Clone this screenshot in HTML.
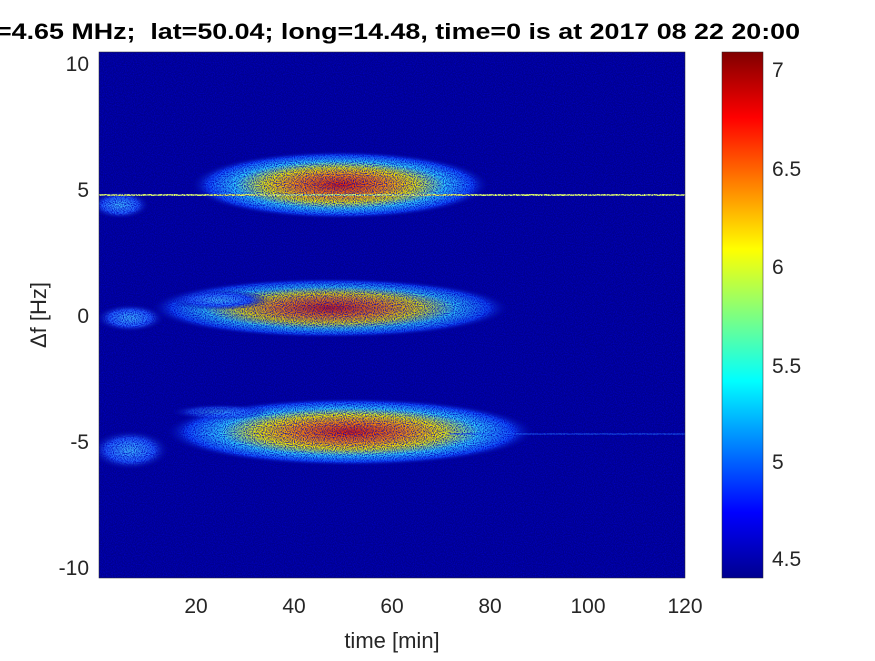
<!DOCTYPE html>
<html><head><meta charset="utf-8"><style>
body{margin:0;background:#fff;width:875px;height:656px;overflow:hidden;font-family:"Liberation Sans",sans-serif}
</style></head><body>
<svg width="875" height="656" xmlns="http://www.w3.org/2000/svg" font-family="Liberation Sans, sans-serif">
<defs>
<radialGradient id="g">
<stop offset="0" stop-color="#e02000"/>
<stop offset="0.3" stop-color="#ff9000"/>
<stop offset="0.5" stop-color="#f0f000"/>
<stop offset="0.7" stop-color="#30d0ff"/>
<stop offset="0.88" stop-color="#1050ff"/>
<stop offset="1" stop-color="#00008f" stop-opacity="0"/>
</radialGradient>
<radialGradient id="g2">
<stop offset="0" stop-color="#40c0ff"/>
<stop offset="0.6" stop-color="#2060ff"/>
<stop offset="1" stop-color="#00008f" stop-opacity="0"/>
</radialGradient>
<linearGradient id="cb" x1="0" y1="1" x2="0" y2="0">
<stop offset="0" stop-color="#00008f"/>
<stop offset="0.125" stop-color="#0000ff"/>
<stop offset="0.375" stop-color="#00ffff"/>
<stop offset="0.625" stop-color="#ffff00"/>
<stop offset="0.875" stop-color="#ff0000"/>
<stop offset="1" stop-color="#800000"/>
</linearGradient>
<filter id="n" x="0" y="0" width="100%" height="100%">
<feTurbulence type="fractalNoise" baseFrequency="0.9" numOctaves="1" seed="3"/>
<feColorMatrix type="matrix" values="0 0 0 0 0  0 0 0 0 0  0 0 0 0 0.5  0 0 0 -2.6 1.6"/>
</filter>
<clipPath id="c"><rect x="99" y="52" width="586" height="526"/></clipPath>
</defs>
<rect x="99" y="52" width="586" height="526" fill="#00008f"/>
<g clip-path="url(#c)">
<ellipse cx="340" cy="185" rx="150" ry="34" fill="url(#g)"/>
<ellipse cx="330" cy="308" rx="180" ry="30" fill="url(#g)" opacity="0.9"/>
<ellipse cx="350" cy="432" rx="185" ry="34" fill="url(#g)"/>
<ellipse cx="120" cy="205" rx="30" ry="14" fill="url(#g2)"/>
<ellipse cx="130" cy="318" rx="35" ry="14" fill="url(#g2)"/>
<ellipse cx="130" cy="450" rx="40" ry="20" fill="url(#g2)"/>
<ellipse cx="220" cy="300" rx="50" ry="10" fill="url(#g2)"/>
<ellipse cx="220" cy="412" rx="50" ry="8" fill="url(#g2)" opacity="0.7"/>
<line x1="99" y1="195" x2="685" y2="195" stroke="#e0ff60" stroke-width="2"/>
<line x1="450" y1="434" x2="685" y2="434" stroke="#2070ff" stroke-width="1.5" opacity="0.7"/>
<rect x="99" y="52" width="586" height="526" filter="url(#n)"/>
</g>
<rect x="99" y="52" width="586" height="526" fill="none" stroke="#262626" stroke-width="0.5"/>
<g font-size="21" fill="#262626" text-anchor="end">
<text x="89" y="71">10</text><text x="89" y="197">5</text><text x="89" y="323">0</text><text x="89" y="449">-5</text><text x="89" y="575">-10</text>
</g>
<g font-size="21" fill="#262626" text-anchor="middle">
<text x="196" y="613">20</text><text x="294" y="613">40</text><text x="392" y="613">60</text><text x="490" y="613">80</text><text x="588" y="613">100</text><text x="685" y="613">120</text>
<text x="392" y="648" font-size="22">time [min]</text>
</g>
<text transform="translate(46,315) rotate(-90)" font-size="22" fill="#262626" text-anchor="middle">Δf [Hz]</text>
<text x="-4" y="39" font-size="22" font-weight="bold" fill="#000" textLength="804" lengthAdjust="spacingAndGlyphs">=4.65 MHz;&#160; lat=50.04; long=14.48, time=0 is at 2017 08 22 20:00</text>
<rect x="722" y="52" width="41" height="526" fill="url(#cb)" stroke="#262626" stroke-width="0.5"/>
<g font-size="21" fill="#262626">
<text x="772" y="77">7</text><text x="772" y="176">6.5</text><text x="772" y="274">6</text><text x="772" y="373">5.5</text><text x="772" y="469">5</text><text x="772" y="566">4.5</text>
</g>
</svg>
</body></html>
